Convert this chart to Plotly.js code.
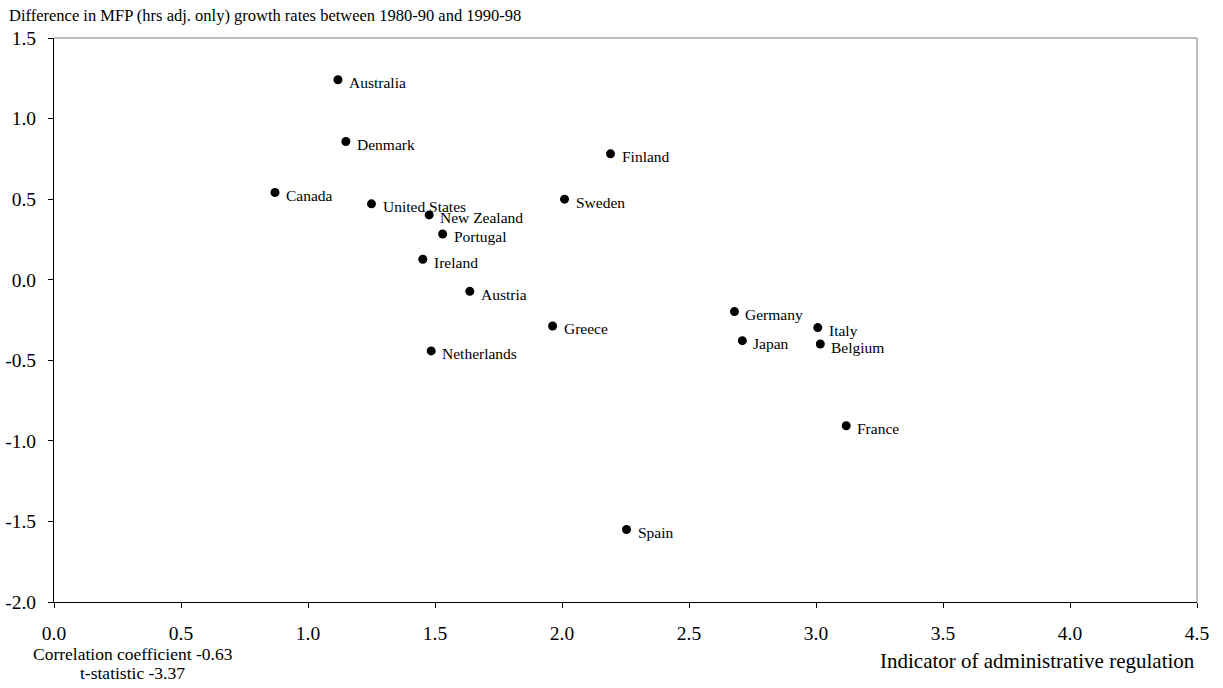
<!DOCTYPE html>
<html>
<head>
<meta charset="utf-8">
<script src="https://cdn.plot.ly/plotly-3.0.1.min.js"></script>
<style>html,body{margin:0;padding:0;background:#fff;}#chart{width:1223px;height:688px;}</style>
</head>
<body>
<div id="chart"></div>
<script>
const countries = ["Australia","Denmark","Canada","United States","New Zealand","Portugal","Ireland","Austria","Netherlands","Greece","Finland","Sweden","Spain","Germany","Japan","Italy","Belgium","France"];
const regulation = [1.118,1.149,0.870,1.250,1.477,1.530,1.452,1.637,1.485,1.963,2.191,2.010,2.254,2.679,2.710,3.007,3.017,3.119];
const mfpDiff = [1.241,0.858,0.541,0.471,0.402,0.284,0.127,-0.072,-0.442,-0.287,0.781,0.500,-1.550,-0.198,-0.378,-0.297,-0.399,-0.906];
const xTicks = [0,0.5,1,1.5,2,2.5,3,3.5,4,4.5];
const xTickLabels = ["0.0","0.5","1.0","1.5","2.0","2.5","3.0","3.5","4.0","4.5"];
const yTicks = [-2,-1.5,-1,-0.5,0,0.5,1,1.5];
const yTickLabels = ["-2.0","-1.5","-1.0","-0.5","0.0","0.5","1.0","1.5"];

const serif = "Liberation Serif, Times New Roman, serif";

const trace = {
  x: regulation, y: mfpDiff, mode: "markers", type: "scatter",
  marker: {color: "#000", size: 9},
  hoverinfo: "skip", cliponaxis: false
};

const labelAnnotations = countries.map((c, i) => ({
  text: c, x: regulation[i], y: mfpDiff[i], xref: "x", yref: "y",
  xanchor: "left", yanchor: "middle", xshift: 9, yshift: -3,
  showarrow: false, font: {family: serif, size: 15.5, color: "#000"}
}));

const layout = {
  width: 1223, height: 688,
  margin: {l: 54, r: 26, t: 38, b: 86},
  paper_bgcolor: "#fff", plot_bgcolor: "#fff",
  showlegend: false,
  font: {family: serif, color: "#000"},
  xaxis: {
    range: [0, 4.5], tickvals: xTicks, ticktext: xTickLabels,
    showgrid: false, zeroline: false, showline: true, linecolor: "#000", linewidth: 1,
    ticks: "outside", ticklen: 5, tickcolor: "#000",
    tickfont: {family: serif, size: 19.5, color: "#000"},
    ticklabelstandoff: 9
  },
  yaxis: {
    range: [-2, 1.5], tickvals: yTicks, ticktext: yTickLabels,
    showgrid: false, zeroline: false, showline: true, linecolor: "#000", linewidth: 1,
    ticks: "outside", ticklen: 5, tickcolor: "#000",
    tickfont: {family: serif, size: 19.5, color: "#000"},
    ticklabelstandoff: 8
  },
  shapes: [
    {type: "line", xref: "paper", yref: "paper", x0: 0, x1: 1, y0: 1, y1: 1, line: {color: "#808080", width: 1}},
    {type: "line", xref: "paper", yref: "paper", x0: 1, x1: 1, y0: 0, y1: 1, line: {color: "#808080", width: 1}}
  ],
  annotations: labelAnnotations.concat([
    {text: "Difference in MFP (hrs adj. only) growth rates between 1980-90 and 1990-98", xref: "paper", yref: "paper",
     x: -0.041, y: 1.0, xanchor: "left", yanchor: "middle", yshift: 23, showarrow: false,
     font: {family: serif, size: 16.5, color: "#000"}},
    {text: "Indicator of administrative regulation", xref: "paper", yref: "paper",
     x: 1.0, y: 0, xanchor: "right", yanchor: "middle", yshift: -59, showarrow: false,
     font: {family: serif, size: 21, color: "#000"}},
    {text: "Correlation coefficient -0.63", xref: "paper", yref: "paper",
     x: 0.069, y: 0, xanchor: "center", yanchor: "middle", yshift: -52, showarrow: false,
     font: {family: serif, size: 17.5, color: "#000"}},
    {text: "t-statistic -3.37", xref: "paper", yref: "paper",
     x: 0.069, y: 0, xanchor: "center", yanchor: "middle", yshift: -71, showarrow: false,
     font: {family: serif, size: 17.5, color: "#000"}}
  ])
};

Plotly.newPlot("chart", [trace], layout, {displayModeBar: false, staticPlot: true});
</script>
</body>
</html>
